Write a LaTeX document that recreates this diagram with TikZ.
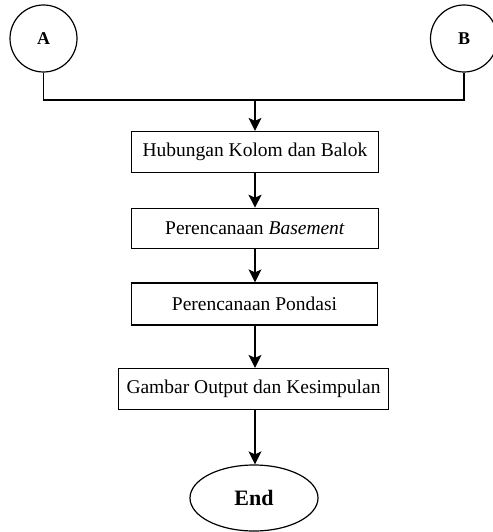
\documentclass[tikz,border=0pt]{standalone}
\usepackage{fontspec}
\setmainfont{Liberation Serif}
\usetikzlibrary{arrows.meta,shapes.geometric}
\begin{document}
\begin{tikzpicture}[x=1pt,y=-1pt,
  line width=1.2pt,
  conn/.style={circle,draw,minimum size=67pt,inner sep=0pt,font=\fontsize{18}{18}\selectfont\bfseries},
  stepbox/.style={draw,rectangle,inner sep=0pt,font=\fontsize{19.5}{21}\selectfont},
  endnode/.style={ellipse,draw,minimum width=128pt,minimum height=66pt,inner sep=0pt,font=\fontsize{22}{22}\selectfont\bfseries},
  arr/.style={-{Stealth[length=13pt,width=13pt,inset=3pt]}}]
\useasboundingbox (0,0) rectangle (492,532);
\node[conn] (A) at (43.5,38.5) {A};
\node[conn] (B) at (464,38.5) {B};
\coordinate (J) at (255,100);
\node[stepbox,minimum width=247pt,minimum height=41pt] (b1) at (255,152) {Hubungan Kolom dan Balok};
\node[stepbox,minimum width=247pt,minimum height=40pt] (b2) at (255,228.3) {Perencanaan \textit{Basement}};
\node[stepbox,minimum width=246pt,minimum height=42pt] (b3) at (254.5,304) {Perencanaan Pondasi};
\node[stepbox,minimum width=270pt,minimum height=41pt] (b4) at (253.5,389) {Gambar Output dan Kesimpulan};
\node[endnode] (e) at (254,498) {End};
\draw (A.south) -- (A.south |- J) -- (B.south |- J) -- (B.south);
\draw[arr] (J) -- (J |- b1.north);
\draw[arr] (b1.south -| J) -- (J |- b2.north);
\draw[arr] (b2.south -| J) -- (J |- b3.north);
\draw[arr] (b3.south -| J) -- (J |- b4.north);
\draw[arr] (b4.south -| J) -- (J |- e.north);
\end{tikzpicture}
\end{document}
